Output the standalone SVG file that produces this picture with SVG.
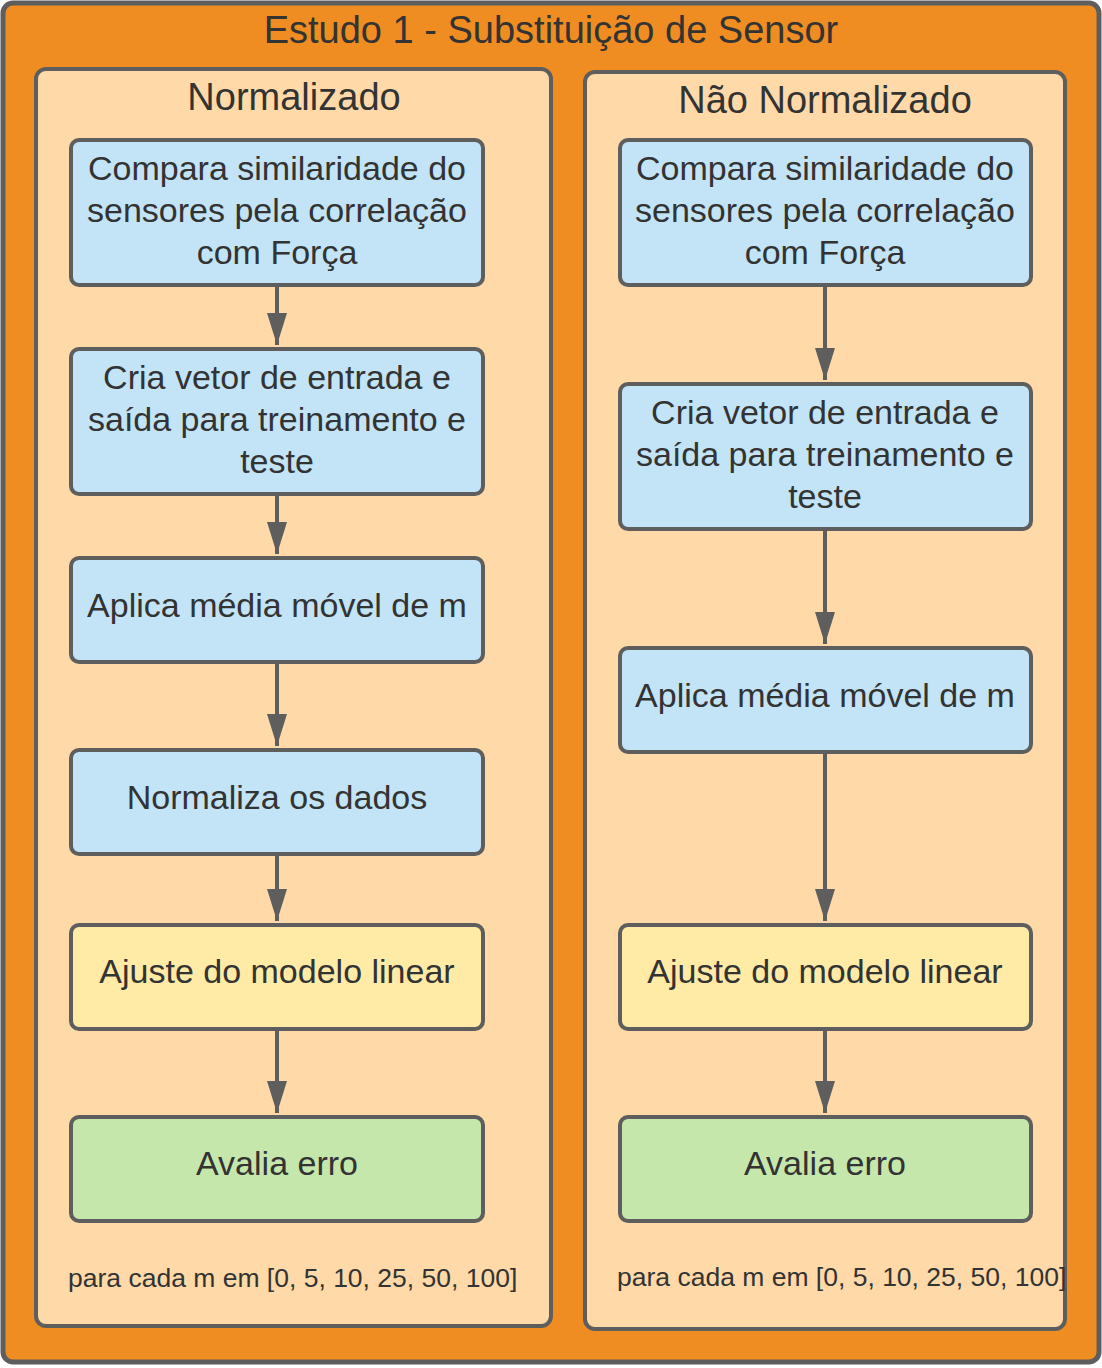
<svg xmlns="http://www.w3.org/2000/svg" width="1102" height="1368" viewBox="0 0 1102 1368">
<style>
text{font-family:"Liberation Sans",Arial,sans-serif;fill:#333333;text-anchor:middle}
.outer{fill:#ef8c22;stroke:#5e5e5e;stroke-width:5}
.panel{fill:#ffd9a8;stroke:#5e5e5e;stroke-width:4}
.box{stroke:#5e5e5e;stroke-width:4}
.blue{fill:#c2e4f6}
.yellow{fill:#ffeaa6}
.green{fill:#c6e7ac}
.t{font-size:34px}
.h{font-size:38px}
.f{font-size:26.5px;text-anchor:start}
.conn line{stroke:#5e5e5e;stroke-width:4}
</style>
<defs>
<marker id="arr" markerUnits="userSpaceOnUse" markerWidth="32" markerHeight="20" refX="32" refY="10" orient="auto" viewBox="0 0 32 20">
<path d="M0,0 L32,10 L0,20 Z" fill="#5e5e5e"/>
</marker>
</defs>
<g id="frame">
<rect class="outer" x="3" y="3" width="1096" height="1359" rx="10"/>
<text class="h" x="551" y="43">Estudo 1 - Substituição de Sensor</text>
</g>
<g id="panel-normalizado">
<rect class="panel" x="36" y="69" width="515" height="1257" rx="10"/>
<text class="h" x="294" y="110">Normalizado</text>
<text class="f" x="68" y="1287">para cada m em [0, 5, 10, 25, 50, 100]</text>
</g>
<g id="panel-nao-normalizado">
<rect class="panel" x="585" y="72" width="480" height="1257" rx="10"/>
<text class="h" x="825" y="113">Não Normalizado</text>
<text class="f" x="617" y="1286">para cada m em [0, 5, 10, 25, 50, 100]</text>
</g>
<g id="L1"><rect class="box blue" x="71" y="140" width="412" height="145" rx="8"/><text class="t" x="277" y="180">Compara similaridade do</text><text class="t" x="277" y="222">sensores pela correlação</text><text class="t" x="277" y="264">com Força</text></g>
<g id="L2"><rect class="box blue" x="71" y="349" width="412" height="145" rx="8"/><text class="t" x="277" y="389">Cria vetor de entrada e</text><text class="t" x="277" y="431">saída para treinamento e</text><text class="t" x="277" y="473">teste</text></g>
<g id="L3"><rect class="box blue" x="71" y="558" width="412" height="104" rx="8"/><text class="t" x="277" y="617">Aplica média móvel de m</text></g>
<g id="L4"><rect class="box blue" x="71" y="750" width="412" height="104" rx="8"/><text class="t" x="277" y="809">Normaliza os dados</text></g>
<g id="L5"><rect class="box yellow" x="71" y="925" width="412" height="104" rx="8"/><text class="t" x="277" y="983">Ajuste do modelo linear</text></g>
<g id="L6"><rect class="box green" x="71" y="1117" width="412" height="104" rx="8"/><text class="t" x="277" y="1175">Avalia erro</text></g>
<g id="R1"><rect class="box blue" x="620" y="140" width="411" height="145" rx="8"/><text class="t" x="825" y="180">Compara similaridade do</text><text class="t" x="825" y="222">sensores pela correlação</text><text class="t" x="825" y="264">com Força</text></g>
<g id="R2"><rect class="box blue" x="620" y="384" width="411" height="145" rx="8"/><text class="t" x="825" y="424">Cria vetor de entrada e</text><text class="t" x="825" y="466">saída para treinamento e</text><text class="t" x="825" y="508">teste</text></g>
<g id="R3"><rect class="box blue" x="620" y="648" width="411" height="104" rx="8"/><text class="t" x="825" y="707">Aplica média móvel de m</text></g>
<g id="R5"><rect class="box yellow" x="620" y="925" width="411" height="104" rx="8"/><text class="t" x="825" y="983">Ajuste do modelo linear</text></g>
<g id="R6"><rect class="box green" x="620" y="1117" width="411" height="104" rx="8"/><text class="t" x="825" y="1175">Avalia erro</text></g>
<g id="connectors" class="conn">
<line x1="277" y1="287" x2="277" y2="345" marker-end="url(#arr)"/>
<line x1="277" y1="496" x2="277" y2="554" marker-end="url(#arr)"/>
<line x1="277" y1="664" x2="277" y2="746" marker-end="url(#arr)"/>
<line x1="277" y1="856" x2="277" y2="921" marker-end="url(#arr)"/>
<line x1="277" y1="1031" x2="277" y2="1113" marker-end="url(#arr)"/>
<line x1="825" y1="287" x2="825" y2="380" marker-end="url(#arr)"/>
<line x1="825" y1="531" x2="825" y2="644" marker-end="url(#arr)"/>
<line x1="825" y1="754" x2="825" y2="921" marker-end="url(#arr)"/>
<line x1="825" y1="1031" x2="825" y2="1113" marker-end="url(#arr)"/>
</g>
</svg>
